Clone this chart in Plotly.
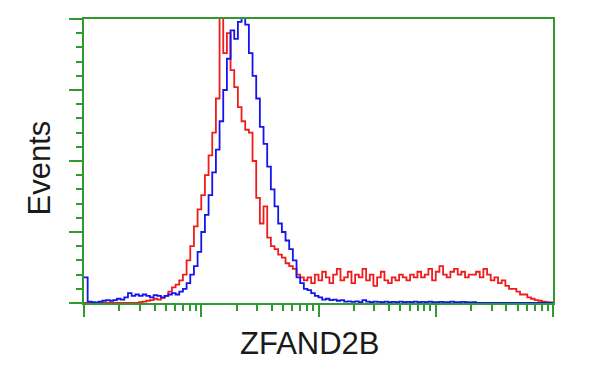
import numpy as np
import plotly.graph_objects as go

# 128 channels over 4 log decades (32 channels per decade)
channels_per_decade = 32
n_channels = 128

red_counts = [
    0, 0, 0, 0, 0, 0, 0, 0, 0, 0, 0, 0, 0, 0, 0,
    0.3, 0.5, 0.8, 1.0, 1.5, 1.2, 1.8, 2.5, 4, 5.5, 6.5, 8, 10, 15, 20,
    27, 33, 38, 45, 52, 60, 72, 106, 88, 95, 82, 76, 69, 64, 61,
    60, 50, 37, 28, 34, 23, 20, 19, 17, 16, 14, 13, 12, 10, 9,
    8, 9, 7, 10, 8, 11, 9, 7, 10, 12, 8, 9, 11, 7, 10,
    9, 12, 8, 10, 6, 9, 11, 8, 7, 9, 8, 10, 9, 8, 10,
    9, 11, 9, 10, 12, 8, 11, 13, 10, 9, 11, 12, 10, 11, 9,
    10, 10, 11, 9, 12, 10, 8, 9, 7, 8, 6, 5, 5, 4, 3,
    3, 2, 1.5, 1, 0.8, 0.5, 0.3, 0.2,
]

blue_counts = [
    9, 0.5, 0.3, 0.2, 0.5, 0.8, 1, 0.8, 1, 1.5, 1.2, 2, 3.5, 2.5, 3,
    2.5, 3, 2.5, 2, 2.8, 2.5, 2, 2.5, 3, 3.5, 3, 4, 5, 7, 10,
    13, 18, 25, 31, 38, 46, 54, 64, 75, 86, 96, 93, 99, 102, 98,
    88, 80, 72, 62, 56, 48, 40, 34, 28, 25, 22, 19, 15, 9, 7,
    5, 4.5, 3.5, 2.5, 2, 1.2, 1.5, 1, 1.2, 0.8, 1, 0.5, 0.6, 0.4, 0.6,
    0.3, 1, 0.5, 0.3, 0.5, 0.4, 0.3, 0.5, 0.3, 0.4, 0.3, 0.5, 0.3, 0.4, 0.3,
    0.5, 0.3, 0.4, 0.3, 0.5, 0.3, 0.3, 0.4, 0.3, 0.3, 0.5, 0.3, 0.3, 0.4, 0.3,
    0.2, 0.3, 0, 0, 0, 0, 0, 0, 0, 0, 0, 0, 0, 0, 0,
    0, 0, 0, 0, 0, 0, 0, 0,
]

x_title = "ZFAND2B"
y_title = "Events"

edges = 10 ** (np.arange(n_channels + 1) / channels_per_decade)

GREEN = "#2f9a2f"


def step_xy(counts):
    xs = list(edges)
    ys = list(counts) + [counts[-1]]
    return xs, ys


fig = go.Figure()
for counts, color in [(red_counts, "#f01c1c"), (blue_counts, "#1414ee")]:
    xs, ys = step_xy(counts)
    fig.add_trace(go.Scatter(x=xs, y=ys, mode="lines", line_shape="hv",
                             line=dict(color=color, width=1.8),
                             hoverinfo="skip", showlegend=False))

fig.update_layout(
    width=600, height=375,
    margin=dict(l=84, r=47, t=19, b=72),
    paper_bgcolor="white", plot_bgcolor="white",
    font=dict(family="Liberation Sans, Arial, sans-serif", color="#1a1a1a"),
    xaxis=dict(type="log", range=[0, 4], dtick=1, showticklabels=False,
               showgrid=False, zeroline=False, showline=True, linecolor=GREEN,
               linewidth=2, mirror=True, ticks="outside", ticklen=12,
               tickwidth=2, tickcolor=GREEN,
               minor=dict(dtick="D1", ticks="outside", ticklen=6,
                          tickwidth=2, tickcolor=GREEN, showgrid=False)),
    yaxis=dict(range=[0, 100], dtick=25, showticklabels=False,
               showgrid=False, zeroline=False, showline=True, linecolor=GREEN,
               linewidth=2, mirror=True, ticks="outside", ticklen=13,
               tickwidth=2, tickcolor=GREEN,
               minor=dict(dtick=5, ticks="outside", ticklen=6,
                          tickwidth=2, tickcolor=GREEN, showgrid=False)),
    annotations=[
        dict(text=x_title, xref="paper", yref="paper", x=(309.5 - 84) / 469,
             y=0, yshift=-40, xanchor="center", yanchor="middle",
             showarrow=False, font=dict(size=31)),
        dict(text=y_title, xref="paper", yref="paper", x=0, xshift=-45,
             y=(303 - 168.5) / 284, xanchor="center", yanchor="middle",
             textangle=-90, showarrow=False, font=dict(size=31)),
    ],
)

fig.write_html("out.html")
